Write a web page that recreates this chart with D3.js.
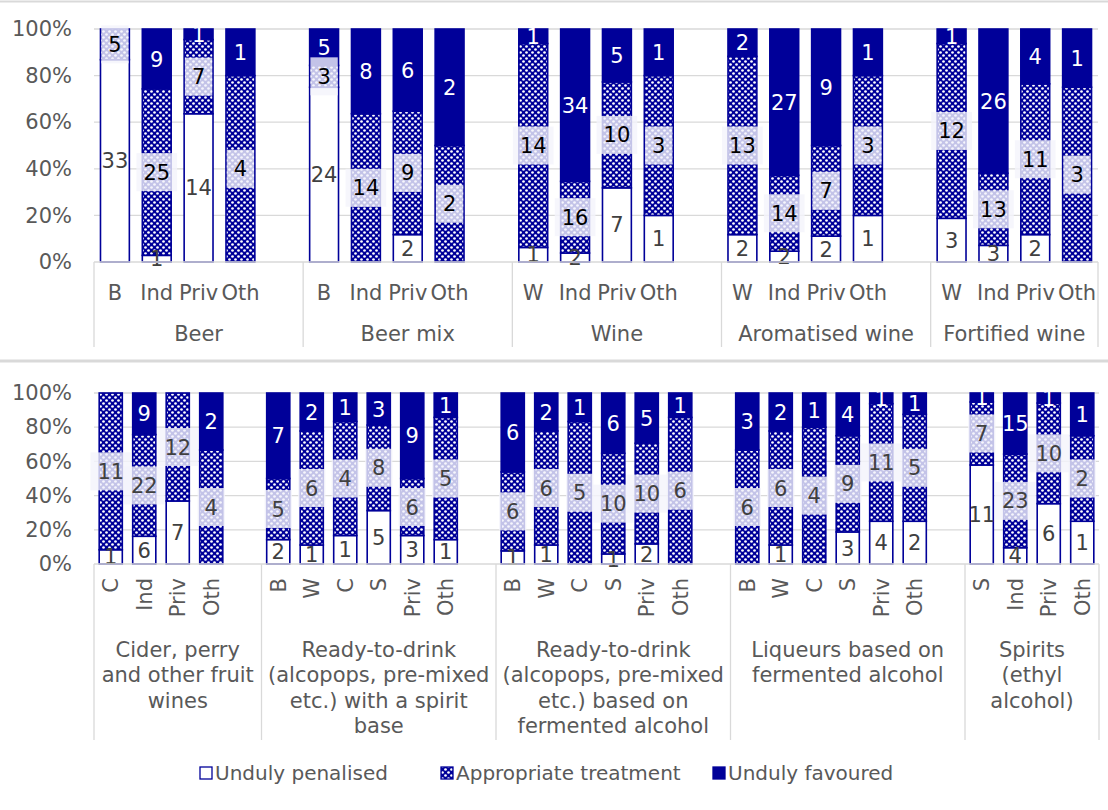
<!DOCTYPE html>
<html><head><meta charset="utf-8">
<script src="https://cdn.jsdelivr.net/npm/d3@7/dist/d3.min.js"></script>
<style>
html,body{margin:0;padding:0;background:#fff;}
svg{display:block;font-family:"DejaVu Sans",Verdana,sans-serif;}
</style></head>
<body>
<svg id="chart" width="1108" height="810"></svg>
<script>
// ---------- DATA ----------
const seriesNames = ["Unduly penalised", "Appropriate treatment", "Unduly favoured"];
const yTicks = [0, 0.2, 0.4, 0.6, 0.8, 1.0];

const topGroups = ["Beer", "Beer mix", "Wine", "Aromatised wine", "Fortified wine"];
const topCats = [["B","Ind","Priv","Oth"],["B","Ind","Priv","Oth"],["W","Ind","Priv","Oth"],["W","Ind","Priv","Oth"],["W","Ind","Priv","Oth"]];
const topPenalised   = [[33,1,14,0],[24,0,2,0],[1,2,7,1],[2,2,2,1],[3,3,2,0]];
const topAppropriate = [[5,25,7,4],[3,14,9,2],[14,16,10,3],[13,14,7,3],[12,13,11,3]];
const topFavoured    = [[0,9,1,1],[5,8,6,2],[1,34,5,1],[2,27,9,1],[1,26,4,1]];

const botGroups = [
  ["Cider, perry","and other fruit","wines"],
  ["Ready-to-drink","(alcopops, pre-mixed","etc.) with a spirit","base"],
  ["Ready-to-drink","(alcopops, pre-mixed","etc.) based on","fermented alcohol"],
  ["Liqueurs based on","fermented alcohol"],
  ["Spirits","(ethyl","alcohol)"]
];
const botCats = [["C","Ind","Priv","Oth"],["B","W","C","S","Priv","Oth"],["B","W","C","S","Priv","Oth"],["B","W","C","S","Priv","Oth"],["S","Ind","Priv","Oth"]];
const botPenalised   = [[1,6,7,0],[2,1,1,5,3,1],[1,1,0,1,2,0],[0,1,0,3,4,2],[11,4,6,1]];
const botAppropriate = [[11,22,12,4],[5,6,4,8,6,5],[6,6,5,10,10,6],[6,6,4,9,11,5],[7,23,10,2]];
const botFavoured    = [[0,9,0,2],[7,2,1,3,9,1],[6,2,1,6,5,1],[3,2,1,4,1,1],[1,15,1,1]];

// ---------- STYLE ----------
const NAVY = "#000099";
const GRID = "#d9d9d9";
const TXT = "#595959";
const FONT = 21;

const svg = d3.select("#chart");
const defs = svg.append("defs");
const pat = defs.append("pattern").attr("id","hatch").attr("patternUnits","userSpaceOnUse")
  .attr("width",6).attr("height",6);
pat.append("rect").attr("width",6).attr("height",6).attr("fill",NAVY);
pat.append("circle").attr("cx",1.5).attr("cy",1.5).attr("r",1.35).attr("fill","#fff");
pat.append("circle").attr("cx",4.5).attr("cy",4.5).attr("r",1.35).attr("fill","#fff");

// panel frame lines
svg.append("line").attr("x1",0).attr("x2",1108).attr("y1",1.5).attr("y2",1.5).attr("stroke",GRID).attr("stroke-width",2);
svg.append("line").attr("x1",0).attr("x2",1108).attr("y1",361).attr("y2",361).attr("stroke",GRID).attr("stroke-width",3);

function measure(txt, size){
  const t = svg.append("text").attr("font-size",size).text(txt);
  const w = t.node().getComputedTextLength(); t.remove(); return w;
}

function panel(cfg){
  const {groups, cats, pen, app, fav, x0, x1, yTop, yBot, sepBottom, rotate, groupY, appColor, penColor} = cfg;
  const slots = [];
  const groupRanges = [];
  cats.forEach((cs, gi) => {
    const start = slots.length;
    cs.forEach((c, ci) => slots.push({key: gi+"_"+ci, cat: c, g: gi, p: pen[gi][ci], a: app[gi][ci], f: fav[gi][ci]}));
    if (gi < cats.length-1) slots.push({key: "gap"+gi, blank: true});
    groupRanges.push([start, slots.length]);
  });
  const x = d3.scaleBand().domain(slots.map(s=>s.key)).range([x0, x1]).padding(0);
  const step = x.step();
  const bw = step*0.69;
  const y = d3.scaleLinear().domain([0,1]).range([yBot, yTop]);
  const g = svg.append("g");

  g.selectAll(".grid").data(yTicks.slice(1)).join("line")
    .attr("x1",x0).attr("x2",x1).attr("y1",d=>y(d)).attr("y2",d=>y(d))
    .attr("stroke",GRID).attr("stroke-width",1.3);
  const yAxis = d3.axisLeft(y).tickValues(yTicks).tickFormat(d3.format(".0%")).tickSize(0).tickPadding(0);
  const ya = g.append("g").attr("transform",`translate(${x0-22},0)`).call(yAxis);
  ya.select(".domain").remove();
  ya.selectAll("text").attr("font-size",FONT).attr("fill",TXT).attr("font-family","DejaVu Sans, Verdana, sans-serif");

  const data = slots.filter(s=>!s.blank);
  const stack = d3.stack().keys(["p","a","f"]).offset(d3.stackOffsetExpand);
  const layers = stack(data);
  const fills = ["#ffffff","url(#hatch)",NAVY];
  layers.forEach((layer, li) => {
    g.append("g").selectAll("rect").data(layer.filter(d=>d[1]-d[0]>0)).join("rect")
      .attr("x", d=>x(d.data.key)+(step-bw)/2)
      .attr("width", bw)
      .attr("y", d=>y(d[1]))
      .attr("height", d=>y(d[0])-y(d[1]))
      .attr("fill", fills[li])
      .attr("stroke", NAVY).attr("stroke-width", 1.6);
  });
  const keys = ["p","a","f"];
  layers.forEach((layer, li) => {
    const lg = g.append("g");
    layer.filter(d=>d.data[keys[li]]>0).forEach(d=>{
      const cx = x(d.data.key)+step/2;
      const cy = y((d[0]+d[1])/2);
      const txt = String(d.data[keys[li]]);
      if (li===1){
        const w = measure(txt, FONT)+14;
        lg.append("rect").attr("x",cx-w/2).attr("y",cy-19).attr("width",w).attr("height",38)
          .attr("fill","#f4f4fb").attr("fill-opacity",0.8);
      }
      lg.append("text").attr("x",cx).attr("y",cy).attr("dy","0.36em")
        .attr("text-anchor","middle").attr("font-size",FONT)
        .attr("fill", li===2 ? "#ffffff" : (li===1 ? appColor : penColor))
        .text(txt);
    });
  });

  g.append("line").attr("x1",x0).attr("x2",x1).attr("y1",yBot).attr("y2",yBot).attr("stroke",GRID).attr("stroke-width",1.3);
  const seps = groupRanges.map(r=>r[0]).concat([slots.length]);
  g.selectAll(".sep").data(seps).join("line")
    .attr("x1",d=>x0+d*step).attr("x2",d=>x0+d*step)
    .attr("y1",yBot).attr("y2",sepBottom).attr("stroke",GRID).attr("stroke-width",1.3);
  data.forEach(s=>{
    const cx = x(s.key)+step/2;
    if (rotate){
      g.append("text").attr("transform",`translate(${cx},${yBot+14}) rotate(-90)`)
        .attr("dy","0.36em").attr("text-anchor","end").attr("font-size",FONT).attr("fill",TXT).text(s.cat);
    } else {
      g.append("text").attr("x",cx).attr("y",yBot+30).attr("dy","0.36em")
        .attr("text-anchor","middle").attr("font-size",FONT).attr("fill",TXT).text(s.cat);
    }
  });
  groups.forEach((lines, gi)=>{
    const r = groupRanges[gi];
    const cx = x0 + (r[0]+r[1])/2*step;
    const ls = Array.isArray(lines) ? lines : [lines];
    ls.forEach((ln, li)=>{
      g.append("text").attr("x",cx).attr("y",groupY+li*25.6).attr("dy","0.36em")
        .attr("text-anchor","middle").attr("font-size",FONT).attr("fill",TXT).text(ln);
    });
  });
}

panel({groups: topGroups, cats: topCats, pen: topPenalised, app: topAppropriate, fav: topFavoured,
  x0: 94, x1: 1098, yTop: 29, yBot: 262, sepBottom: 347, rotate: false, groupY: 333,
  appColor: "#000000", penColor: "#404040"});
panel({groups: botGroups, cats: botCats, pen: botPenalised, app: botAppropriate, fav: botFavoured,
  x0: 94, x1: 1099, yTop: 393, yBot: 564, sepBottom: 740, rotate: true, groupY: 649,
  appColor: "#404040", penColor: "#404040"});

const legend = svg.append("g");
const legItems = [
  {name: seriesNames[0], fill: "#ffffff", x: 200},
  {name: seriesNames[1], fill: "url(#hatch)", x: 441},
  {name: seriesNames[2], fill: NAVY, x: 713}
];
legItems.forEach(it=>{
  legend.append("rect").attr("x",it.x).attr("y",767).attr("width",12).attr("height",12)
    .attr("fill",it.fill).attr("stroke",NAVY).attr("stroke-width",1.3);
  legend.append("text").attr("x",it.x+15).attr("y",773).attr("dy","0.36em")
    .attr("font-size",20).attr("fill",TXT).text(it.name);
});
</script>
</body></html>
